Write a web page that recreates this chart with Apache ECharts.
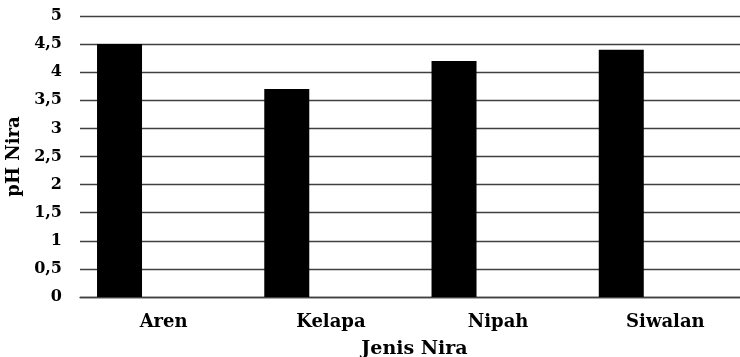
<!DOCTYPE html>
<html>
<head>
<meta charset="utf-8">
<script src="https://cdn.jsdelivr.net/npm/echarts@6/dist/echarts.min.js"></script>
<style>
  html, body { margin: 0; padding: 0; background: #fff; }
  #chart { width: 740px; height: 357px; }
</style>
</head>
<body>
<div id="chart"></div>
<script>
// Jenis nira and their measured pH
const categories = ['Aren', 'Kelapa', 'Nipah', 'Siwalan'];
const phValues = [4.5, 3.7, 4.2, 4.4];
const yTicks = [0, 0.5, 1, 1.5, 2, 2.5, 3, 3.5, 4, 4.5, 5];

const FONT = '"DejaVu Serif", serif';

const chart = echarts.init(document.getElementById('chart'), null, { renderer: 'canvas' });

chart.setOption({
  animation: false,
  backgroundColor: '#ffffff',
  grid: { left: 80, top: 16, width: 669, height: 281, containLabel: false, outerBoundsMode: 'none' },
  xAxis: {
    type: 'category',
    data: categories,
    name: 'Jenis Nira',
    nameLocation: 'middle',
    nameGap: 43,
    nameTextStyle: { fontFamily: FONT, fontWeight: 'bold', fontSize: 19, color: '#000' },
    axisLine: { show: true, lineStyle: { color: '#404040', width: 1.3 } },
    axisTick: { show: false },
    axisLabel: { fontFamily: FONT, fontWeight: 'bold', fontSize: 18, color: '#000', margin: 16 }
  },
  yAxis: {
    type: 'value',
    min: yTicks[0],
    max: yTicks[yTicks.length - 1],
    interval: 0.5,
    name: 'pH Nira',
    nameLocation: 'middle',
    nameGap: 55,
    nameTextStyle: { fontFamily: FONT, fontWeight: 'bold', fontSize: 18, color: '#000' },
    axisLine: { show: false },
    axisTick: { show: false },
    splitLine: { show: true, lineStyle: { color: '#404040', width: 1.3 } },
    axisLabel: {
      fontFamily: FONT, fontWeight: 'bold', fontSize: 16, color: '#000', margin: 18,
      formatter: v => String(v).replace('.', ',')
    }
  },
  series: [
    {
      type: 'bar',
      data: phValues,
      barWidth: 45,
      barGap: '96%',
      itemStyle: { color: '#000000' }
    },
    {
      // empty companion series keeps the bars left of each category centre
      type: 'bar',
      data: categories.map(() => '-'),
      barWidth: 45,
      itemStyle: { color: '#000000' }
    }
  ]
});
</script>
</body>
</html>
